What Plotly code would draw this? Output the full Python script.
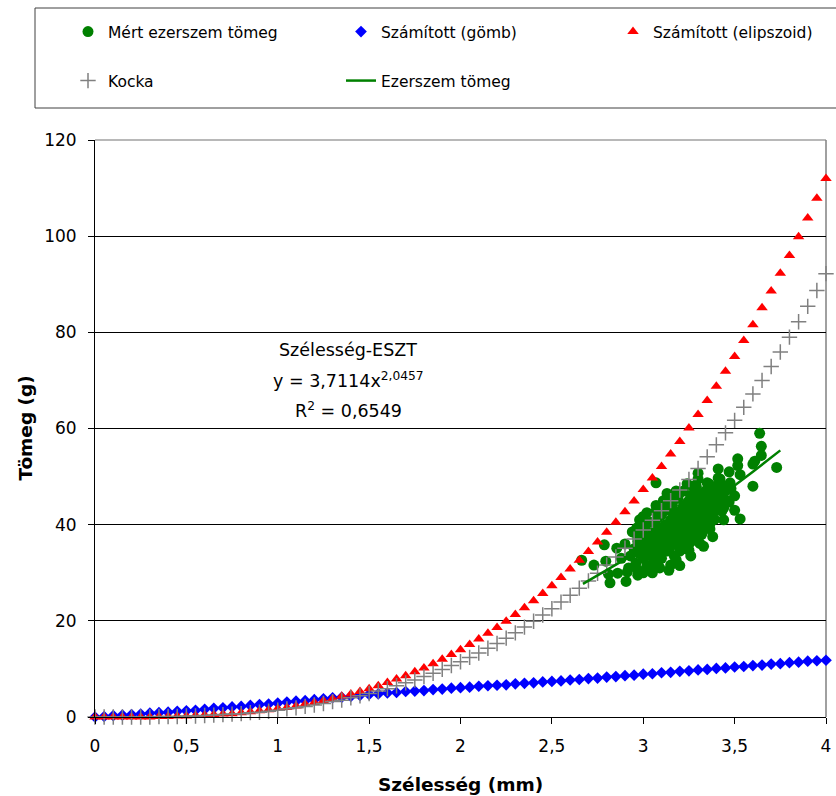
import plotly.graph_objects as go

# ---------------- data ----------------
calc_x = [round(i * 0.05, 2) for i in range(81)]  # 0 .. 4 mm, step 0.05 (category positions)

gomb_y = [0.0, 0.1, 0.3, 0.4, 0.5, 0.6, 0.8, 0.9, 1.0, 1.2, 1.3,
          1.4, 1.6, 1.8, 1.9, 2.1, 2.2, 2.4, 2.6, 2.7, 2.9,
          3.1, 3.3, 3.4, 3.6, 3.8, 4.0, 4.1, 4.3, 4.5, 4.7,
          4.8, 5.0, 5.1, 5.3, 5.4, 5.5, 5.7, 5.8, 6.0, 6.1,
          6.2, 6.4, 6.5, 6.6, 6.7, 6.9, 7.0, 7.1, 7.3, 7.4,
          7.5, 7.7, 7.8, 8.0, 8.1, 8.3, 8.4, 8.6, 8.7, 8.9,
          9.0, 9.2, 9.3, 9.5, 9.6, 9.8, 9.9, 10.1, 10.2, 10.4,
          10.5, 10.7, 10.8, 11.0, 11.1, 11.3, 11.4, 11.6, 11.7, 11.8]

elipszoid_y = [0, 0, 0, 0, 0, 0, 0, 0.1, 0.1, 0.2, 0.2,
               0.3, 0.4, 0.5, 0.6, 0.7, 0.9, 1.1, 1.3, 1.5, 1.75,
               2.0, 2.3, 2.7, 3.0, 3.4, 3.8, 4.3, 4.8, 5.3, 5.9,
               6.5, 7.2, 7.9, 8.6, 9.4, 10.2, 11.1, 12.0, 13.0, 14.0,
               15.1, 16.2, 17.4, 18.6, 19.9, 21.3, 22.7, 24.2, 25.7, 27.3,
               29.0, 30.8, 32.6, 34.4, 36.4, 38.4, 40.5, 42.7, 44.9, 47.3,
               49.7, 52.1, 54.7, 57.3, 60.1, 62.9, 65.8, 68.8, 71.9, 75.0,
               78.3, 81.6, 85.1, 88.6, 92.3, 96.0, 99.9, 103.8, 107.9, 112.0]

kocka_y = [0, 0, 0, 0, 0, 0, 0, 0.1, 0.1, 0.1, 0.2,
           0.2, 0.3, 0.4, 0.5, 0.6, 0.7, 0.9, 1.0, 1.2, 1.4,
           1.7, 1.9, 2.2, 2.5, 2.8, 3.2, 3.5, 4.0, 4.4, 4.9,
           5.4, 5.9, 6.5, 7.1, 7.7, 8.4, 9.1, 9.9, 10.7, 11.5,
           12.4, 13.3, 14.3, 15.3, 16.4, 17.5, 18.7, 19.9, 21.2, 22.5,
           23.9, 25.3, 26.8, 28.3, 29.9, 31.6, 33.3, 35.1, 37.0, 38.9,
           40.9, 42.9, 45.0, 47.2, 49.4, 51.7, 54.1, 56.6, 59.1, 61.7,
           64.4, 67.2, 70.0, 72.9, 75.9, 79.0, 82.2, 85.4, 88.7, 92.2]

mert_x = [3.637, 3.646, 3.646, 3.61, 3.60, 3.73, 3.517, 3.517, 3.53, 3.47, 3.60, 3.41, 3.41,
          3.53, 3.47, 3.39, 3.07, 2.787, 2.663, 2.73, 2.818, 2.906, 2.913, 2.855, 2.795, 2.81,
          2.86, 2.97, 3.04, 3.08, 3.15, 3.18, 3.25, 3.31, 3.365, 3.30, 3.35, 3.29, 3.40, 3.43,
          3.475, 2.995, 2.964, 3.07, 3.13, 3.146, 3.20, 3.27, 2.98, 3.00, 2.97,
          2.93, 2.95, 2.96, 2.97, 2.98, 2.99, 3.00, 3.00, 3.01, 3.02, 3.02, 3.03, 3.04, 3.04,
          3.05, 3.06, 3.06, 3.07, 3.08, 3.08, 3.09, 3.10, 3.10, 3.11, 3.12, 3.12, 3.13, 3.13,
          3.14, 3.15, 3.15, 3.16, 3.16, 3.17, 3.17, 3.18, 3.18, 3.19, 3.19, 3.20, 3.20, 3.21,
          3.21, 3.22, 3.22, 3.23, 3.23, 3.24, 3.24, 3.25, 3.25, 3.26, 3.26, 3.27, 3.27, 3.28,
          3.28, 3.29, 3.29, 3.30, 3.30, 3.31, 3.31, 3.32, 3.32, 3.33, 3.33, 3.34, 3.34, 3.35,
          3.35, 3.36, 3.37, 3.37, 3.38, 3.38, 3.39, 3.40, 3.41, 3.42, 3.43, 3.44, 3.45,
          2.88, 2.90, 2.92, 2.94, 2.97, 3.00, 3.02, 3.05, 3.07, 3.09, 3.11, 3.14, 3.18, 3.20,
          3.24, 3.26, 3.30, 3.33, 3.36, 3.38, 3.42, 3.44, 3.46, 3.48, 3.50, 3.50,
          2.99, 3.01, 3.03, 3.05, 3.06, 3.08, 3.09, 3.11, 3.12, 3.14, 3.15, 3.16, 3.17, 3.19,
          3.19, 3.20, 3.21, 3.22, 3.23, 3.24, 3.25, 3.25, 3.26, 3.27, 3.28, 3.28, 3.29, 3.30,
          3.31, 3.32, 3.33, 3.34, 3.35, 3.36, 3.37, 3.39, 3.40, 3.42, 3.44, 3.10, 3.13, 3.18]
mert_y = [59.0, 56.3, 54.4, 53.2, 52.6, 51.9, 53.7, 52.3, 50.4, 51.0, 48.0, 51.6, 49.7,
          41.2, 44.7, 41.1, 48.7, 35.8, 32.6, 31.6, 27.9, 28.2, 30.2, 35.1, 32.4, 29.7,
          29.9, 30.6, 30.6, 31.7, 31.6, 32.7, 34.7, 36.1, 39.1, 50.7, 48.7, 48.0, 47.3, 42.8,
          48.7, 41.2, 39.3, 42.8, 44.5, 45.2, 46.6, 48.0, 41.0, 41.7, 37.2,
          33.5, 35.0, 32.0, 36.5, 34.0, 38.0, 33.0, 36.0, 39.5, 31.5, 35.0, 37.5, 33.5, 40.5,
          36.0, 38.5, 32.5, 34.5, 37.0, 41.5, 35.5, 39.0, 33.0, 36.5, 40.0, 43.0, 34.5, 38.0,
          37.0, 41.0, 35.5, 39.5, 44.0, 33.5, 37.5, 42.0, 36.0, 40.5, 45.5, 38.5, 34.5, 43.0,
          36.5, 41.0, 47.0, 39.0, 35.0, 44.5, 37.5, 42.0, 40.0, 46.0, 36.5, 38.5, 43.5, 41.0,
          47.5, 39.5, 37.0, 44.5, 42.5, 40.0, 46.0, 38.0, 43.0, 45.0, 41.5, 47.0, 39.5, 43.5,
          45.5, 42.0, 44.0, 40.5, 46.5, 42.5, 44.5, 43.0, 45.5, 44.0, 46.5, 43.5, 47.0,
          33.0, 36.0, 31.0, 38.5, 29.5, 30.0, 42.5, 30.0, 44.0, 31.0, 45.0, 30.5, 47.0, 31.5,
          48.5, 33.5, 49.5, 35.5, 48.5, 37.5, 49.5, 41.0, 45.0, 47.5, 46.0, 43.0,
          35.5, 34.0, 36.0, 38.0, 35.0, 39.5, 33.5, 38.0, 35.0, 39.0, 43.0, 37.0, 40.0, 36.5,
          42.5, 40.5, 38.0, 44.0, 41.5, 39.5, 36.0, 45.0, 42.5, 40.5, 38.0, 44.5, 42.0, 46.5,
          43.5, 41.0, 46.0, 44.0, 41.5, 46.0, 47.0, 45.0, 48.0, 46.0, 48.0, 42.0, 46.5, 45.5]

trend_x = [2.67, 2.8, 2.9, 3.0, 3.1, 3.2, 3.3, 3.4, 3.5, 3.6, 3.75]
trend_y = [27.67, 30.50, 32.77, 35.12, 37.56, 40.08, 42.68, 45.37, 48.14, 51.00, 55.45]

x_tick_vals = [0, 0.5, 1, 1.5, 2, 2.5, 3, 3.5, 4]
x_tick_text = ["0", "0,5", "1", "1,5", "2", "2,5", "3", "3,5", "4"]
y_tick_vals = [0, 20, 40, 60, 80, 100, 120]

names = ["Mért ezerszem tömeg", "Számított (gömb)", "Számított (elipszoid)", "Kocka", "Ezerszem tömeg"]
trend_lines = ["Szélesség-ESZT", "y = 3,7114x<sup>2,0457</sup>", "R<sup>2</sup> = 0,6549"]

# ---------------- figure ----------------
FONT = "DejaVu Sans"
fig = go.Figure()
fig.add_trace(go.Scatter(x=mert_x, y=mert_y, mode="markers", name=names[0], legend="legend",
                         marker=dict(symbol="circle", size=11, color="#008000"), cliponaxis=False))
fig.add_trace(go.Scatter(x=calc_x, y=gomb_y, mode="markers", name=names[1], legend="legend2",
                         marker=dict(symbol="diamond", size=9, color="#0000FF"), cliponaxis=False))
fig.add_trace(go.Scatter(x=calc_x, y=elipszoid_y, mode="markers", name=names[2], legend="legend3",
                         marker=dict(symbol="triangle-up", size=10, color="#FF0000"), cliponaxis=False))
fig.add_trace(go.Scatter(x=calc_x, y=kocka_y, mode="markers", name=names[3], legend="legend4",
                         marker=dict(symbol="cross-thin", size=11, color="#808080",
                                     line=dict(color="#808080", width=1.5)), cliponaxis=False))
fig.add_trace(go.Scatter(x=trend_x, y=trend_y, mode="lines", name=names[4], legend="legend5",
                         line=dict(color="#008000", width=2.5)))

W, H = 836, 796
L, R, T, B = 95, 10, 140, 79
pw, ph = W - L - R, H - T - B

def px(xp):
    return (xp - L) / pw

def py(yp):
    return (H - B - yp) / ph

leg_common = dict(font=dict(family=FONT, size=15.5, color="black"), bgcolor="rgba(0,0,0,0)",
                  borderwidth=0, xanchor="left", yanchor="middle")
fig.update_layout(
    legend=dict(x=px(68), y=py(32), **leg_common),
    legend2=dict(x=px(341), y=py(32), **leg_common),
    legend3=dict(x=px(613), y=py(32), **leg_common),
    legend4=dict(x=px(68), y=py(81), **leg_common),
    legend5=dict(x=px(341), y=py(81), **leg_common),
)

ann_x = 1.385
ann_y = [76.3, 70.0, 63.9]
annotations = [dict(x=ann_x, y=yy, xref="x", yref="y", text=t, showarrow=False,
                    font=dict(family=FONT, size=17.5, color="black"), xanchor="center", yanchor="middle")
               for t, yy in zip(trend_lines, ann_y)]
annotations.append(dict(x=0.5, y=py(785), xref="paper", yref="paper", text="<b>Szélesség (mm)</b>",
                        showarrow=False, font=dict(family=FONT, size=18.5, color="black"),
                        xanchor="center", yanchor="middle"))
annotations.append(dict(x=px(25), y=0.5, xref="paper", yref="paper", text="<b>Tömeg (g)</b>",
                        showarrow=False, textangle=-90, font=dict(family=FONT, size=18.5, color="black"),
                        xanchor="center", yanchor="middle"))

shapes = [
    dict(type="rect", xref="paper", yref="paper", x0=px(35), x1=px(845), y0=py(108), y1=py(8),
         line=dict(color="#404040", width=1), fillcolor="rgba(0,0,0,0)", layer="above"),
    dict(type="line", xref="paper", yref="paper", x0=0, x1=1, y0=1, y1=1,
         line=dict(color="#A0A0A0", width=1.5), layer="between"),
    dict(type="line", xref="paper", yref="paper", x0=1, x1=1, y0=0, y1=1,
         line=dict(color="#808080", width=1.5), layer="between"),
]

fig.update_layout(
    width=W, height=H,
    margin=dict(l=L, r=R, t=T, b=B, autoexpand=False),
    paper_bgcolor="white", plot_bgcolor="white",
    font=dict(family=FONT, size=17, color="black"),
    showlegend=True,
    annotations=annotations,
    shapes=shapes,
    xaxis=dict(range=[0, 4], tickvals=x_tick_vals, ticktext=x_tick_text, ticks="outside", ticklen=6,
               tickcolor="black", showline=True, linecolor="black", linewidth=1, showgrid=False,
               zeroline=False, tickfont=dict(family=FONT, size=17, color="black"), ticklabelstandoff=8),
    yaxis=dict(range=[0, 120], tickvals=y_tick_vals, ticks="outside", ticklen=6, tickcolor="black",
               showline=True, linecolor="black", linewidth=1, showgrid=True, gridcolor="black",
               gridwidth=1, zeroline=False, tickfont=dict(family=FONT, size=17, color="black"),
               ticklabelstandoff=8),
)

fig.write_html("out.html", config={"displayModeBar": False},
               post_script="document.body.style.margin='0';document.body.style.overflow='hidden';")
